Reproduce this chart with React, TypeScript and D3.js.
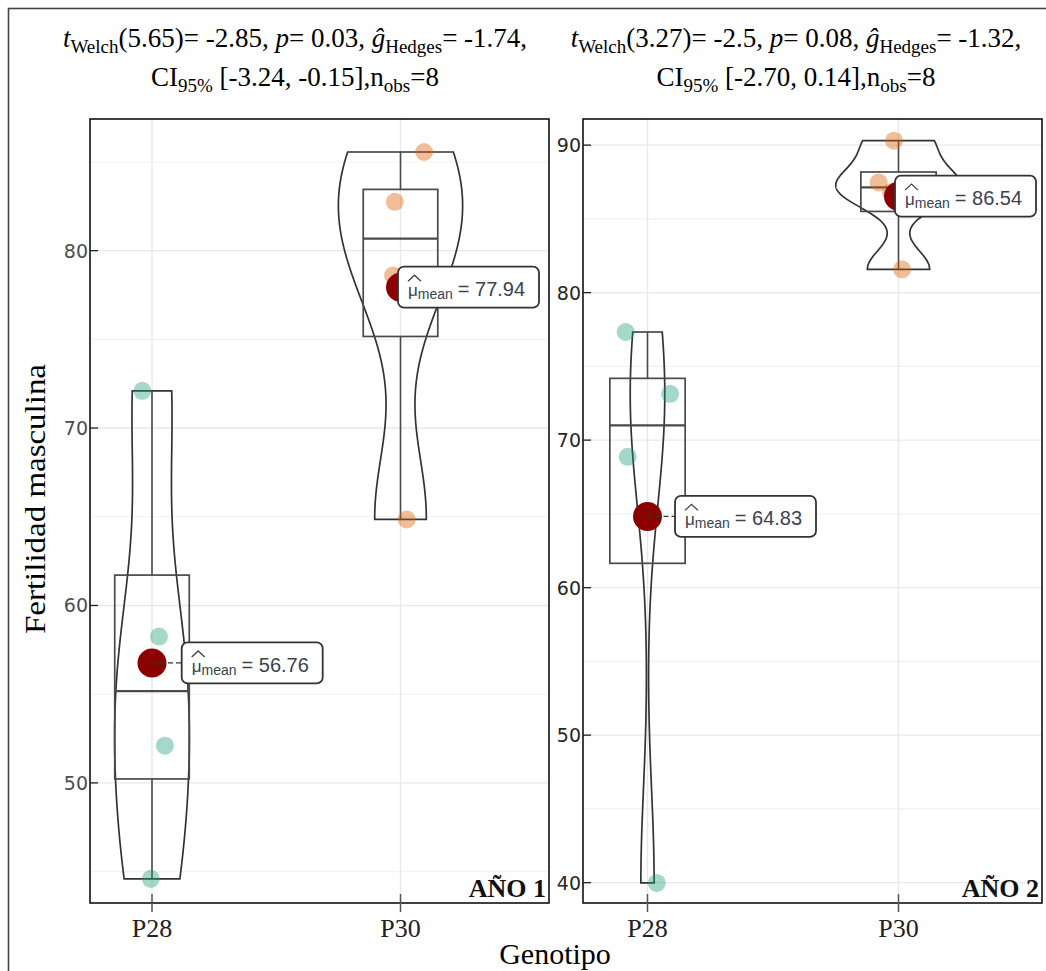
import React from 'react';
import * as d3 from 'd3';

// Genotype categories on the x axis
const genotypes = ['P28', 'P30'];

// Male fertility observations per year and genotype
const year1P28 = [72.1, 58.25, 52.1, 44.59];
const year1P30 = [85.56, 82.75, 78.6, 64.85];
const year2P28 = [77.33, 73.14, 68.87, 39.98];
const year2P30 = [90.3, 87.47, 86.81, 81.58];

// Horizontal jitter of each observation, in category units
const jitter1P28 = [-0.039, 0.028, 0.052, -0.005];
const jitter1P30 = [0.095, -0.023, -0.03, 0.025];
const jitter2P28 = [-0.087, 0.09, -0.079, 0.037];
const jitter2P30 = [-0.018, -0.079, -0.03, 0.014];

// Axis ticks
const yTicks1 = [50, 60, 70, 80];
const yTicks2 = [40, 50, 60, 70, 80, 90];

// Facet labels
const yearLabels = ['AÑO 1', 'AÑO 2'];

// Welch t-test summaries per year
const welchDf = ['5.65', '3.27'];
const welchT = ['-2.85', '-2.5'];
const pValues = ['0.03', '0.08'];
const hedgesG = ['-1.74', '-1.32'];
const ciLow = ['-3.24', '-2.70'];
const ciHigh = ['-0.15', '0.14'];
const nObs = [8, 8];

const groupColors = ['#1B9E77', '#D95F02'];
const meanColor = '#8B0000';

// Panel layout
const layout = [
  {
    left: 90, right: 549, top: 119, bottom: 903,
    domain: [43.23, 87.42], centers: [152, 400.5],
    ticks: yTicks1, tickColor: '#4d4d4d', titleX: 295,
    series: [year1P28, year1P30], jitter: [jitter1P28, jitter1P30],
    labelDx: [29.7, -2.5],
  },
  {
    left: 583, right: 1042, top: 119, bottom: 903,
    domain: [38.62, 91.77], centers: [647.5, 898.5],
    ticks: yTicks2, tickColor: '#262626', titleX: 796,
    series: [year2P28, year2P30], jitter: [jitter2P28, jitter2P30],
    labelDx: [27.5, -3.5],
  },
];

const serif = '"Liberation Serif", "Times New Roman", serif';
const sans = '"Liberation Sans", Arial, sans-serif';

function bwNrd0(v: number[]) {
  const s = v.slice().sort(d3.ascending);
  const sd = d3.deviation(s) as number;
  const iqr = (d3.quantile(s, 0.75) as number) - (d3.quantile(s, 0.25) as number);
  const lo = Math.min(sd, iqr / 1.34);
  return 0.9 * lo * Math.pow(s.length, -0.2);
}

// Gaussian kernel density over the observed range (trimmed violin)
function density(v: number[], n = 512) {
  const bw = bwNrd0(v);
  const mn = d3.min(v) as number;
  const mx = d3.max(v) as number;
  const k = 1 / (v.length * bw * Math.sqrt(2 * Math.PI));
  return d3.range(n).map((i) => {
    const y = mn + ((mx - mn) * i) / (n - 1);
    const d = k * d3.sum(v, (xi) => Math.exp(-0.5 * ((y - xi) / bw) ** 2));
    return [y, d] as [number, number];
  });
}

function boxStats(v: number[]) {
  const s = v.slice().sort(d3.ascending);
  const q1 = d3.quantile(s, 0.25) as number;
  const med = d3.quantile(s, 0.5) as number;
  const q3 = d3.quantile(s, 0.75) as number;
  const iqr = q3 - q1;
  const lowW = d3.min(s.filter((x) => x >= q1 - 1.5 * iqr)) as number;
  const highW = d3.max(s.filter((x) => x <= q3 + 1.5 * iqr)) as number;
  return { q1, med, q3, lowW, highW };
}

function Panel({ cfg, idx }: { cfg: (typeof layout)[number]; idx: number }) {
  const y = d3.scaleLinear().domain(cfg.domain).range([cfg.bottom, cfg.top]);
  const x = d3.scalePoint<string>().domain(genotypes).range(cfg.centers as [number, number]);
  const step = cfg.centers[1] - cfg.centers[0];

  const dens = cfg.series.map((s) => density(s));
  const maxD = d3.max(dens.flat(), (d) => d[1]) as number;
  const violinHalf = 0.25 * step;
  const boxHalf = 0.15 * step;

  const minor: number[] = [];
  cfg.ticks.forEach((t) => minor.push(t + 5));
  minor.push(cfg.ticks[0] - 5);
  const minorIn = minor.filter((m) => m > cfg.domain[0] && m < cfg.domain[1]);

  const fmt = d3.format('.2f');

  return (
    <g>
      <defs>
        <clipPath id={`clip${idx}`}>
          <rect x={cfg.left} y={cfg.top} width={cfg.right - cfg.left} height={cfg.bottom - cfg.top} />
        </clipPath>
      </defs>
      <g clipPath={`url(#clip${idx})`}>
        {minorIn.map((m) => (
          <line key={`mi${m}`} x1={cfg.left} x2={cfg.right} y1={y(m)} y2={y(m)} stroke="#f1f1f1" strokeWidth={1.1} />
        ))}
        {cfg.ticks.map((t) => (
          <line key={`ma${t}`} x1={cfg.left} x2={cfg.right} y1={y(t)} y2={y(t)} stroke="#e8e8e8" strokeWidth={1.4} />
        ))}
        {genotypes.map((g) => (
          <line key={`vg${g}`} x1={x(g)} x2={x(g)} y1={cfg.top} y2={cfg.bottom} stroke="#e8e8e8" strokeWidth={1.4} />
        ))}

        {genotypes.map((g, gi) => {
          const cx = x(g) as number;
          const area = d3
            .area<[number, number]>()
            .x0((d) => cx - (d[1] / maxD) * violinHalf)
            .x1((d) => cx + (d[1] / maxD) * violinHalf)
            .y((d) => y(d[0]));
          return <path key={`v${g}`} d={area(dens[gi]) as string} fill="none" stroke="#333" strokeWidth={1.7} />;
        })}

        {genotypes.map((g, gi) => {
          const cx = x(g) as number;
          const b = boxStats(cfg.series[gi]);
          return (
            <g key={`b${g}`} stroke="#4a4a4a" fill="none">
              {b.highW > b.q3 && <line x1={cx} x2={cx} y1={y(b.q3)} y2={y(b.highW)} strokeWidth={1.6} />}
              {b.lowW < b.q1 && <line x1={cx} x2={cx} y1={y(b.q1)} y2={y(b.lowW)} strokeWidth={1.6} />}
              <rect x={cx - boxHalf} y={y(b.q3)} width={2 * boxHalf} height={y(b.q1) - y(b.q3)} strokeWidth={1.7} />
              <line x1={cx - boxHalf} x2={cx + boxHalf} y1={y(b.med)} y2={y(b.med)} strokeWidth={2.2} />
            </g>
          );
        })}

        {genotypes.map((g, gi) =>
          cfg.series[gi].map((v, i) => (
            <circle
              key={`p${g}${i}`}
              cx={(x(g) as number) + cfg.jitter[gi][i] * step}
              cy={y(v)}
              r={9}
              fill={groupColors[gi]}
              fillOpacity={0.4}
            />
          ))
        )}
      </g>

      {genotypes.map((g, gi) => {
        const cx = x(g) as number;
        const m = d3.mean(cfg.series[gi]) as number;
        const my = y(m);
        const bx = cx + cfg.labelDx[gi];
        const bw = 141;
        const bh = 41;
        const tx = bx + 10;
        return (
          <g key={`m${g}`}>
            <circle cx={cx} cy={my} r={14.5} fill={meanColor} />
            {bx > cx + 14 && (
              <line x1={cx} x2={bx} y1={my} y2={my} stroke="#333" strokeWidth={1.3} strokeDasharray="5 3" />
            )}
            <rect x={bx} y={my - bh / 2} width={bw} height={bh} rx={6} fill="#fff" stroke="#333" strokeWidth={1.8} />
            <path
              d={`M${tx},${my - 6} L${tx + 6.5},${my - 12} L${tx + 13},${my - 6}`}
              fill="none"
              stroke="#444"
              strokeWidth={1.3}
            />
            <text x={tx} y={my + 9} fontFamily={sans} fill="#3b4250">
              <tspan fontSize={17}>μ</tspan>
              <tspan fontSize={14} dy={3}>mean</tspan>
              <tspan fontSize={20} dy={-3} dx={5}>{`= ${fmt(m)}`}</tspan>
            </text>
          </g>
        );
      })}

      <rect
        x={cfg.left}
        y={cfg.top}
        width={cfg.right - cfg.left}
        height={cfg.bottom - cfg.top}
        fill="none"
        stroke="#111"
        strokeWidth={1.6}
      />

      {cfg.ticks.map((t) => (
        <g key={`yt${t}`}>
          <line x1={cfg.left} x2={cfg.left + 8} y1={y(t)} y2={y(t)} stroke="#222" strokeWidth={1.3} />
          <text x={cfg.left - 2} y={y(t) + 7} textAnchor="end" fontFamily='"DejaVu Sans", sans-serif' fontSize={19} fill={cfg.tickColor}>
            {t}
          </text>
        </g>
      ))}

      {genotypes.map((g) => (
        <g key={`xt${g}`}>
          <line x1={x(g)} x2={x(g)} y1={cfg.bottom - 9} y2={cfg.bottom + 9} stroke="#555" strokeWidth={1.5} />
          <text x={x(g)} y={937} textAnchor="middle" fontFamily={serif} fontSize={26} fill="#222">
            {g}
          </text>
        </g>
      ))}

      <text x={cfg.right - 3} y={897} textAnchor="end" fontFamily={serif} fontWeight="bold" fontSize={26} fill="#111">
        {yearLabels[idx]}
      </text>

      <text x={cfg.titleX} y={47} textAnchor="middle" fontFamily={serif} fontSize={27} fill="#000">
        <tspan fontStyle="italic">t</tspan>
        <tspan fontSize={19} dy={6}>Welch</tspan>
        <tspan dy={-6}>{`(${welchDf[idx]})= ${welchT[idx]}, `}</tspan>
        <tspan fontStyle="italic">p</tspan>
        <tspan>{`= ${pValues[idx]}, `}</tspan>
        <tspan fontStyle="italic">ĝ</tspan>
        <tspan fontSize={19} dy={6}>Hedges</tspan>
        <tspan dy={-6}>{`= ${hedgesG[idx]},`}</tspan>
      </text>
      <text x={cfg.titleX} y={86} textAnchor="middle" fontFamily={serif} fontSize={27} fill="#000">
        <tspan>CI</tspan>
        <tspan fontSize={19} dy={6}>95%</tspan>
        <tspan dy={-6}>{` [${ciLow[idx]}, ${ciHigh[idx]}],n`}</tspan>
        <tspan fontSize={19} dy={6}>obs</tspan>
        <tspan dy={-6}>{`=${nObs[idx]}`}</tspan>
      </text>
    </g>
  );
}

export default function App() {
  return (
    <svg
      width={1046}
      height={971}
      viewBox="0 0 1046 971"
      style={{ position: 'absolute', left: 0, top: 0, background: '#fff' }}
    >
      <rect x={0} y={0} width={1046} height={971} fill="#fff" />
      <rect x={8.5} y={8.5} width={1100} height={1100} fill="none" stroke="#444" strokeWidth={1.6} />
      {layout.map((cfg, i) => (
        <Panel key={i} cfg={cfg} idx={i} />
      ))}
      <text
        transform="translate(45,499) rotate(-90)"
        textAnchor="middle"
        fontFamily={serif}
        fontSize={30}
        textLength={270}
        lengthAdjust="spacingAndGlyphs"
        fill="#000"
      >
        Fertilidad masculina
      </text>
      <text x={555} y={964} textAnchor="middle" fontFamily={serif} fontSize={30} fill="#000">
        Genotipo
      </text>
    </svg>
  );
}
